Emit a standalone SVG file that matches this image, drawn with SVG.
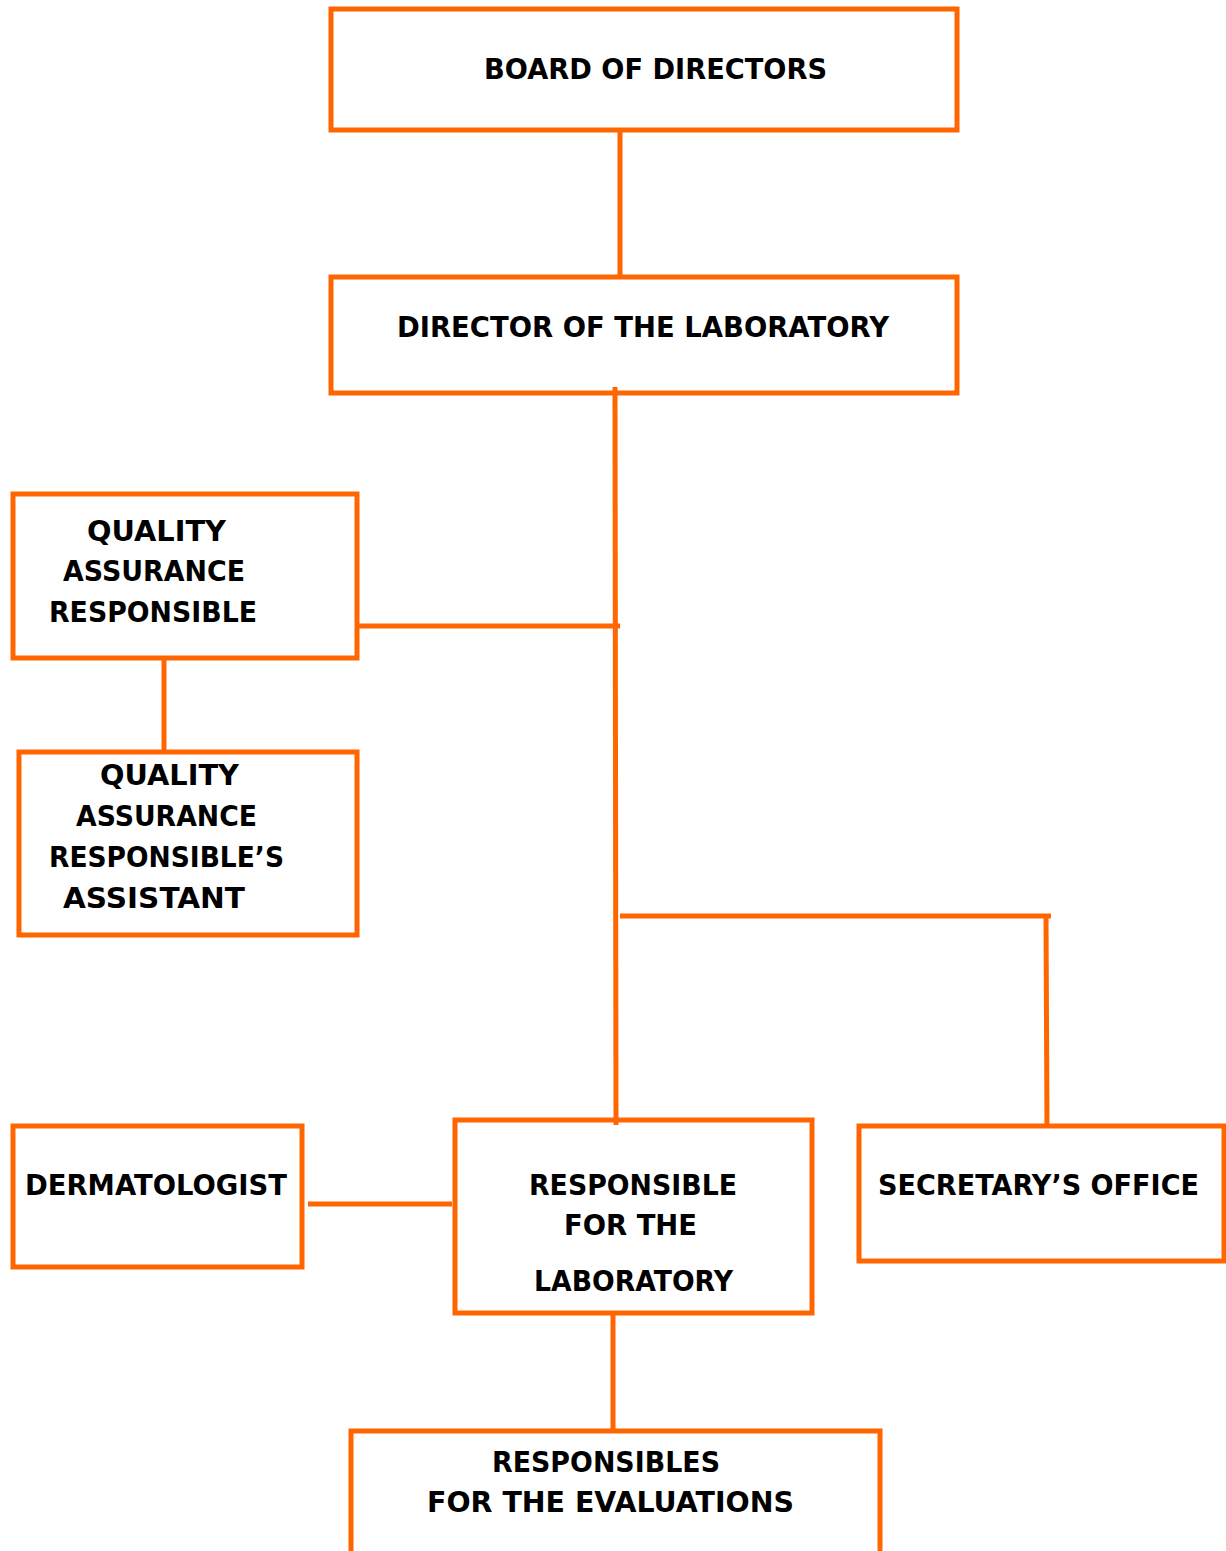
<svg xmlns="http://www.w3.org/2000/svg" width="1226" height="1551" viewBox="0 0 1226 1551">
<style>
.box{fill:#fff;stroke:#FF6600;stroke-width:5}
.ln{fill:none;stroke:#FF6600;stroke-width:5}
text{font-family:"DejaVu Sans","Liberation Sans",sans-serif;font-weight:bold;font-size:29px;fill:#000}
</style>
<rect width="1226" height="1551" fill="#fff"/>
<g id="board">
<rect class="box" x="331" y="9" width="626" height="121"/>
<text x="484" y="79" textLength="343" lengthAdjust="spacingAndGlyphs">BOARD OF DIRECTORS</text>
</g>
<g id="director">
<rect class="box" x="331" y="277" width="626" height="116"/>
<text x="397" y="337" textLength="492" lengthAdjust="spacingAndGlyphs">DIRECTOR OF THE LABORATORY</text>
</g>
<g id="qa">
<rect class="box" x="13" y="494" width="344" height="164"/>
<text x="87" y="541" textLength="139" lengthAdjust="spacingAndGlyphs">QUALITY</text>
<text x="63" y="581" textLength="182" lengthAdjust="spacingAndGlyphs">ASSURANCE</text>
<text x="49" y="622" textLength="208" lengthAdjust="spacingAndGlyphs">RESPONSIBLE</text>
</g>
<g id="qa-assistant">
<rect class="box" x="19" y="752" width="338" height="183"/>
<text x="100" y="785" textLength="139" lengthAdjust="spacingAndGlyphs">QUALITY</text>
<text x="76" y="826" textLength="181" lengthAdjust="spacingAndGlyphs">ASSURANCE</text>
<text x="49" y="867" textLength="235" lengthAdjust="spacingAndGlyphs">RESPONSIBLE’S</text>
<text x="63" y="908" textLength="182" lengthAdjust="spacingAndGlyphs">ASSISTANT</text>
</g>
<g id="dermatologist">
<rect class="box" x="13" y="1126" width="289" height="141"/>
<text x="25" y="1195" textLength="262" lengthAdjust="spacingAndGlyphs">DERMATOLOGIST</text>
</g>
<g id="responsible-lab">
<rect class="box" x="455" y="1120" width="357" height="193"/>
<text x="529" y="1195" textLength="208" lengthAdjust="spacingAndGlyphs">RESPONSIBLE</text>
<text x="564" y="1235" textLength="133" lengthAdjust="spacingAndGlyphs">FOR THE</text>
<text x="534" y="1291" textLength="199" lengthAdjust="spacingAndGlyphs">LABORATORY</text>
</g>
<g id="secretary">
<rect class="box" x="859" y="1126" width="365" height="135"/>
<text x="878" y="1195" textLength="321" lengthAdjust="spacingAndGlyphs">SECRETARY’S OFFICE</text>
</g>
<g id="evaluations">
<path class="box" d="M351 1560 V1431 H880 V1560"/>
<text x="492" y="1472" textLength="228" lengthAdjust="spacingAndGlyphs">RESPONSIBLES</text>
<text x="427" y="1512" textLength="367" lengthAdjust="spacingAndGlyphs">FOR THE EVALUATIONS</text>
</g>
<g id="connectors">
<line class="ln" x1="620" y1="130" x2="620" y2="277"/>
<line class="ln" x1="615" y1="387" x2="616" y2="1125"/>
<line class="ln" x1="357" y1="626" x2="620" y2="626"/>
<line class="ln" x1="164" y1="658" x2="164" y2="752"/>
<line class="ln" x1="620" y1="916" x2="1051" y2="916"/>
<line class="ln" x1="1046" y1="916" x2="1047" y2="1127"/>
<line class="ln" x1="308" y1="1204" x2="452" y2="1204"/>
<line class="ln" x1="613" y1="1313" x2="613" y2="1430"/>
</g>
</svg>
